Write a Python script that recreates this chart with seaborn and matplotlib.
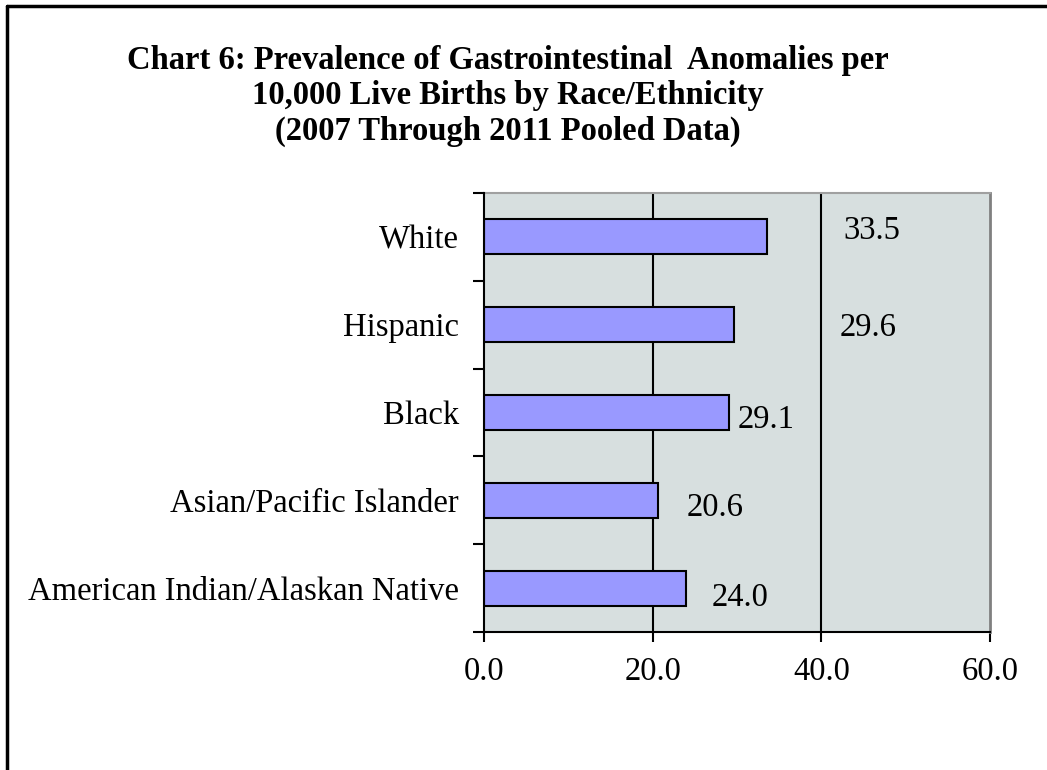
import matplotlib
matplotlib.use("Agg")
import matplotlib.pyplot as plt
import seaborn as sns
import pandas as pd
from matplotlib.lines import Line2D

categories = ["White", "Hispanic", "Black", "Asian/Pacific Islander",
              "American Indian/Alaskan Native"]
values = [33.5, 29.6, 29.1, 20.6, 24.0]
value_labels = ["33.5", "29.6", "29.1", "20.6", "24.0"]
x_ticks = [0, 20, 40, 60]
x_tick_labels = ["0.0", "20.0", "40.0", "60.0"]
title = ("Chart 6: Prevalence of Gastrointestinal  Anomalies per\n"
         "10,000 Live Births by Race/Ethnicity\n"
         "(2007 Through 2011 Pooled Data)")

# label offsets (pixels from bar end / bar centre) - style only
label_dx = [77, 106, 8, 29, 25]
label_dy = [2, 11, 16, 16, 18]

sns.set_theme(style="white")
plt.rcParams["font.family"] = ["Liberation Serif", "DejaVu Serif"]
plt.rcParams["text.color"] = "black"
plt.rcParams["xtick.color"] = "black"
plt.rcParams["ytick.color"] = "black"
plt.rcParams["axes.labelcolor"] = "black"

df = pd.DataFrame({"category": categories, "value": values})

fig = plt.figure(figsize=(10.47, 7.7), dpi=100)
ax = fig.add_axes([484/1047, 1-632/770, (990-484)/1047, (632-193)/770])
ax.set_facecolor("#D7DFDF")

sns.barplot(data=df, x="value", y="category", orient="h", ax=ax,
            color="#9999FF", saturation=1, width=0.4,
            edgecolor="black", linewidth=1.5, zorder=3)

ax.set_xlim(0, 60)
ax.set_ylim(len(categories)-0.5, -0.5)
ax.set_xticks(x_ticks)
ax.set_xticklabels(x_tick_labels, fontsize=23.5)
ax.set_xlabel("")
ax.set_ylabel("")
ax.tick_params(axis="y", labelsize=23.5, length=0, pad=18)
ax.set_yticks([i - 0.5 for i in range(len(categories)+1)], minor=True)
ax.tick_params(axis="y", which="minor", length=8, width=1.5, color="black", direction="out", left=True)
ax.tick_params(axis="x", which="major", length=7, width=1.5, color="black", direction="out", bottom=True, pad=11)

for xv in [20, 40]:
    ax.axvline(xv, color="black", linewidth=1.5, zorder=1)

for s in ["left", "bottom"]:
    ax.spines[s].set_color("black")
    ax.spines[s].set_linewidth(1.5)
    ax.spines[s].set_zorder(4)
ax.spines["top"].set_color("#A0A0A0")
ax.spines["top"].set_linewidth(1.5)
ax.spines["right"].set_color("#808080")
ax.spines["right"].set_linewidth(2)

for i, (v, lab) in enumerate(zip(values, value_labels)):
    ax.annotate(lab, xy=(v, i), xytext=(label_dx[i], -label_dy[i]),
                textcoords="offset pixels", ha="left", va="baseline",
                fontsize=23.5, color="black", zorder=5)

fig.text(508/1047, 1-45/770, title, ha="center", va="top",
         fontsize=23.5, fontweight="bold", linespacing=1.18, color="black")

# figure frame (top and left edges)
fig.add_artist(Line2D([7/1047, 1], [1-6/770, 1-6/770], transform=fig.transFigure,
                      color="black", linewidth=2.5))
fig.add_artist(Line2D([7/1047, 7/1047], [0, 1-6/770], transform=fig.transFigure,
                      color="black", linewidth=2.5))

fig.savefig("out.png", dpi=100)
